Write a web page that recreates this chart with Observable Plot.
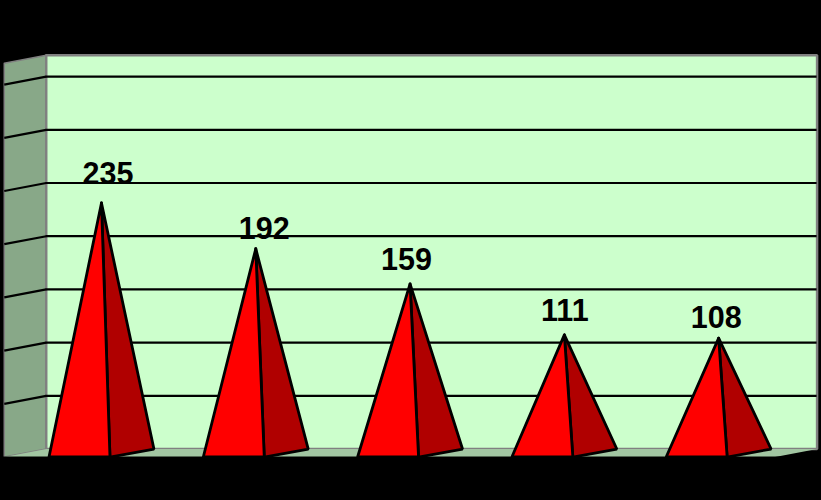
<!DOCTYPE html>
<html>
<head>
<meta charset="utf-8">
<script src="https://cdn.jsdelivr.net/npm/d3@7"></script>
<script src="https://cdn.jsdelivr.net/npm/@observablehq/plot@0.6"></script>
<style>
html,body{margin:0;padding:0;background:#000;overflow:hidden}
svg{display:block}
</style>
</head>
<body>
<div id="chart"></div>
<script>
const categories = [0, 1, 2, 3, 4];
const values = [235, 192, 159, 111, 108];
const gridTicks = [50, 100, 150, 200, 250, 300, 350];

// chart box geometry, in scale units
const wallLeft = -0.358, wallRight = 4.638, wallTop = 370;
const depthX = 0.272, depthY = -7.5;
const halfBase = 0.34, frontMid = 0.055;
// label nudges (px)
const labelDx = [6.5, 8.5, -3.5, 0.5, -2.5];
const labelDy = [-18.5, -10, -13.5, -13.5, -10];

const poly = (id, pts) => [...pts, pts[0]].map(([x, y]) => ({id, x, y}));
const shape = (pts, fill, stroke, strokeWidth) =>
  Plot.line(poly("s", pts), {x: "x", y: "y", fill, stroke, strokeWidth, strokeLinejoin: "miter"});

const marks = [];
// side wall, back wall, floor
marks.push(shape([[wallLeft - depthX, depthY + wallTop], [wallLeft, wallTop], [wallLeft, 0], [wallLeft - depthX, depthY]], "#88a888", "#808080", 1.5));
marks.push(shape([[wallLeft, wallTop], [wallRight, wallTop], [wallRight, 0], [wallLeft, 0]], "#ccffcc", "#808080", 2.5));
marks.push(shape([[wallLeft - depthX, depthY], [wallLeft, 0], [wallRight, 0], [wallRight - depthX, depthY]], "#a2c6a2", "none", 0));
// grid
marks.push(Plot.ruleY(gridTicks, {x1: wallLeft, x2: wallRight, stroke: "#000", strokeWidth: 2.2}));
marks.push(Plot.link(gridTicks, {x1: wallLeft, y1: d => d, x2: wallLeft - depthX, y2: d => d + depthY, stroke: "#000", strokeWidth: 2.2}));
// pyramids
categories.forEach((c, i) => {
  const apex = [c, values[i] + depthY / 2];
  const fl = [c - halfBase, depthY], fm = [c + frontMid, depthY], br = [c + halfBase, 0];
  marks.push(shape([apex, fm, br], "#b00000", "#000", 2.8));
  marks.push(shape([apex, fl, fm], "#ff0000", "#000", 2.8));
});
// black band below the floor
marks.push(Plot.rect([0], {x1: wallLeft - depthX - 0.1, x2: wallRight + 0.2, y1: depthY, y2: -60, fill: "#000"}));
// value labels
categories.forEach((c, i) => {
  marks.push(Plot.text([{x: c, y: values[i] + depthY / 2, t: String(values[i])}], {
    x: "x", y: "y", text: "t", dx: labelDx[i], dy: labelDy[i], lineAnchor: "bottom",
    fontFamily: "Liberation Sans", fontWeight: "bold", fontSize: 30.5, fill: "#000"
  }));
});

const chart = Plot.plot({
  width: 821, height: 500, margin: 0,
  style: {background: "#000"},
  x: {domain: [-0.657, 4.664], range: [-0.4, 820.6], axis: null},
  y: {domain: [-47.9, 422], range: [499.5, -0.5], axis: null},
  marks
});
document.getElementById("chart").append(chart);
</script>
</body>
</html>
